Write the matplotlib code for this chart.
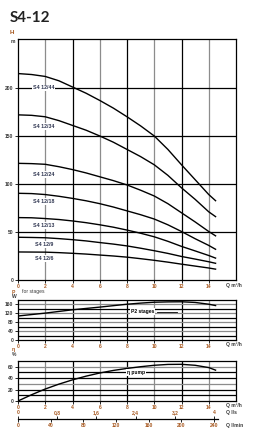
import numpy as np
import matplotlib.pyplot as plt

# ---- data ----
q = [0, 1, 2, 3, 4, 5, 6, 7, 8, 9, 10, 11, 12, 13, 14, 14.5]          # m3/h
h_44 = [215, 214, 212, 207.5, 201, 194.5, 187, 179, 170, 160.5, 150, 136, 120, 104.5, 89, 82.6]
h_34 = [172, 171.5, 170, 166, 161, 156, 150, 143.5, 136, 128.5, 120, 109, 96, 84, 71, 66]
h_24 = [121.5, 121.2, 120.5, 118, 115, 111.5, 107.5, 103.5, 99, 93.5, 87.5, 79.5, 70, 60.5, 50.5, 46]
h_18 = [90.3, 90, 89, 87.2, 85, 82.5, 79.5, 76, 72, 68, 63.5, 57.5, 50.5, 43, 36, 32]
h_13 = [65, 64.8, 64, 63, 61.5, 59.7, 57.5, 55, 52, 48.7, 45, 40.3, 35, 30.3, 25.5, 22.8]
h_9 = [44.5, 44.3, 44, 43.1, 42, 40.7, 39, 37.4, 35.5, 33.1, 30.5, 27.7, 24.5, 21.8, 19, 17.4]
h_6 = [29.2, 29.1, 29, 28.5, 27.8, 27, 26, 25, 23.8, 22.2, 20.5, 18.6, 16.5, 14.5, 12.5, 11.3]
curve_names = ["S4 12/44", "S4 12/34", "S4 12/24", "S4 12/18", "S4 12/13", "S4 12/9", "S4 12/6"]
label_h = [200, 160, 110, 81.5, 57, 37, 22.6]

q_p = [0, 1, 2, 3, 4, 5, 6, 7, 8, 9, 10, 11, 12, 13, 14, 14.5]
p2 = [108, 114.5, 121, 128.5, 136, 142, 148, 154.5, 161, 166, 170, 171.5, 172, 169, 161, 155]   # W, 2 stages

q_eta = [0, 1, 2, 3, 4, 5, 6, 7, 8, 9, 10, 11, 12, 13, 14, 14.5]
eta = [0, 11, 21, 29.5, 37, 43.5, 49, 53.5, 57, 60, 62.5, 64, 64.2, 62.5, 58.5, 54]  # %

q_ticks = [0, 2, 4, 6, 8, 10, 12, 14]
ls_ticks = [0, 0.8, 1.6, 2.4, 3.2, 4]
ls_labels = ["0", "0,8", "1,6", "2,4", "3,2", "4"]
lmin_ticks = [0, 40, 80, 120, 160, 200, 240]

W, H = 266, 443
fig = plt.figure(figsize=(W / 100, H / 100), dpi=100)
fam = ["Liberation Sans", "DejaVu Sans"]
tick_col = "#3a3a3a"
sym_col = "#a85a22"


def box(l, t, r, b):
    return [l / W, 1 - b / H, (r - l) / W, (b - t) / H]


def ftext(x, y, s, **kw):
    kw.setdefault("fontsize", 3.6)
    kw.setdefault("family", fam)
    kw.setdefault("va", "center")
    fig.text(x / W, 1 - y / H, s, **kw)


def style(ax, ylim, yticks, hlines):
    ax.set_xlim(0, 16)
    ax.set_ylim(*ylim)
    for x in range(2, 16, 2):
        ax.axvline(x, color="#8c8c8c" if (x // 2) % 2 else "black", lw=0.9, zorder=1)
    for y, c in hlines:
        ax.axhline(y, color=c, lw=0.9, zorder=1)
    ax.set_xticks(q_ticks)
    ax.set_yticks(yticks)
    ax.tick_params(labelsize=3.6, length=2.2, width=0.6, pad=1, labelcolor=tick_col)
    for lab in ax.get_xticklabels() + ax.get_yticklabels():
        lab.set_family(fam)
        lab.set_fontweight("bold")
    for lab in ax.get_xticklabels():
        lab.set_color(sym_col)
    for s in ax.spines.values():
        s.set_linewidth(0.9)


# ---- head curves ----
ax1 = fig.add_axes(box(18, 39, 236, 280))
style(ax1, (0, 251), [0, 50, 100, 150, 200], [(v, "black") for v in (50, 100, 150, 200)])
for hv, name, ly in zip([h_44, h_34, h_24, h_18, h_13, h_9, h_6], curve_names, label_h):
    ax1.plot(q, hv, color="black", lw=1.0, zorder=3)
    ax1.text(1.9, ly, name, ha="center", va="center", fontsize=3.8, family=fam,
             fontweight="bold", color="#2e3550", zorder=4,
             bbox=dict(facecolor="white", edgecolor="none", pad=0.6))

# ---- power ----
ax2 = fig.add_axes(box(18, 300, 236, 340))
hl2 = [(v, "#8c8c8c" if (v // 20) % 2 == 0 else "black") for v in range(20, 180, 20)]
style(ax2, (0, 180), [0, 40, 80, 120, 160], hl2)
ax2.plot(q_p, p2, color="black", lw=1.0, zorder=3)
ax2.text(9.15, 127, "P2 stages", ha="center", va="center", fontsize=3.6, family=fam,
         fontweight="bold", zorder=4, bbox=dict(facecolor="white", edgecolor="none", pad=0.6))
ax2.plot([10.2, 11.7], [127, 127], color="black", lw=0.6, zorder=4)

# ---- efficiency ----
ax3 = fig.add_axes(box(18, 361, 236, 401))
hl3 = [(60, "#8c8c8c"), (50, "black"), (40, "black"), (30, "#8c8c8c"), (20, "black"), (10, "black")]
style(ax3, (0, 70), [0, 20, 40, 60], hl3)
ax3.plot(q_eta, eta, color="black", lw=1.0, zorder=3)
ax3.text(8.65, 50, "\u03b7 pump", ha="center", va="center", fontsize=3.6, family=fam,
         fontweight="bold", zorder=4, bbox=dict(facecolor="white", edgecolor="none", pad=0.6))
ax3.plot([9.6, 11.4], [50, 50], color="black", lw=0.6, zorder=4)

# secondary flow scales under the efficiency panel
sec_min = ax3.secondary_xaxis(-0.45, functions=(lambda x: x * 1000 / 60, lambda v: v * 60 / 1000))
sec_min.set_xticks(lmin_ticks)
sec_min.tick_params(labelsize=3.6, length=2.2, width=0.6, pad=1, labelcolor=sym_col)
sec_min.spines["bottom"].set_bounds(0, 245)
sec_min.spines["bottom"].set_linewidth(0.9)
for lab in sec_min.get_xticklabels():
    lab.set_family(fam)
    lab.set_fontweight("bold")

sec_ls = ax3.secondary_xaxis(-0.45, functions=(lambda x: x / 3.6, lambda v: v * 3.6))
sec_ls.set_alignment("top")
sec_ls.set_xticks(ls_ticks, ls_labels)
sec_ls.tick_params(labelsize=3.6, length=2.2, width=0.6, pad=0.8, labelcolor=sym_col)
for s in sec_ls.spines.values():
    s.set_visible(False)
for lab in sec_ls.get_xticklabels():
    lab.set_family(fam)
    lab.set_fontweight("bold")

# ---- texts ----
ftext(10, 18.5, "S4-12", fontsize=11, fontweight="bold", family=["Lato", "DejaVu Sans"], color="#222222")
ftext(10, 33, "H", fontsize=4.5, fontweight="bold", color=sym_col)
ftext(10.5, 41.5, "m", fontsize=3.6, fontweight="bold", color=tick_col)
ftext(12, 292, "P", fontsize=3.6, fontweight="bold", color=sym_col)
ftext(12, 296.5, "W", fontsize=3.6, fontweight="bold", color=tick_col)
ftext(22, 292, "for stages", fontsize=3.6, color=tick_col)
ftext(12, 350, "\u03b7", fontsize=3.8, fontweight="bold", color=sym_col)
ftext(12, 355, "%", fontsize=3.6, fontweight="bold", color=tick_col)
for yy in (285, 344.5, 405):
    ftext(226, yy, "Q m\u00b3/h", color=tick_col, fontweight="bold")
ftext(226, 412.5, "Q l/s", color=tick_col, fontweight="bold")
ftext(226, 425, "Q l/min", color=tick_col, fontweight="bold")

fig.savefig("out.png", dpi=100)
